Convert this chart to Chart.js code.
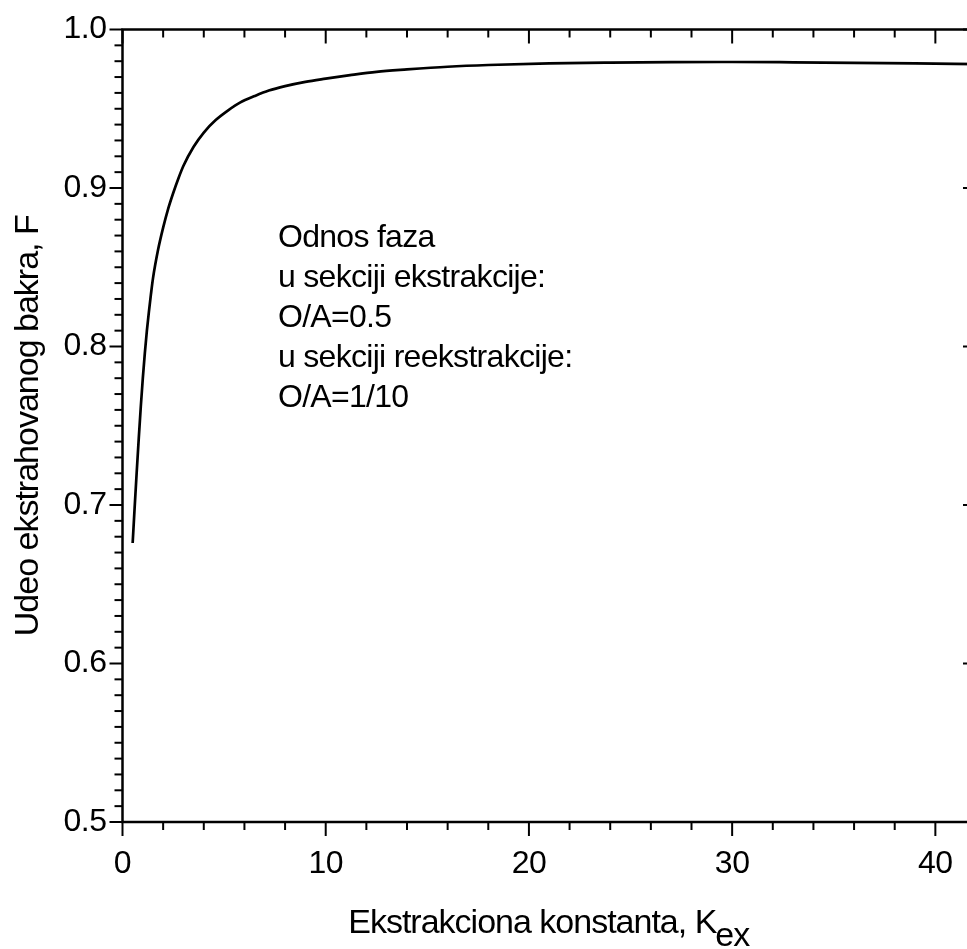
<!DOCTYPE html>
<html>
<head>
<meta charset="utf-8">
<script src="https://cdn.jsdelivr.net/npm/chart.js@4/dist/chart.umd.min.js"></script>
<style>
  html, body { margin: 0; padding: 0; background: #fff; overflow: hidden; }
  canvas { display: block; }
</style>
</head>
<body>
<canvas id="chart_div" width="990" height="949"></canvas>
<script>
// Kex (x) vs. fraction of extracted copper F (y)
const kex = [0.5, 0.6, 0.7, 0.8, 0.9, 1.0, 1.1, 1.2, 1.3, 1.4, 1.5, 1.75, 2.0, 2.25, 2.5, 2.75, 3.0, 3.5, 4.0, 4.6, 5.2, 5.8, 6.5, 7.2, 8.0, 9.0, 10, 11.2, 12.5, 14, 16, 18, 21, 24, 27, 30, 33, 36, 39, 42];
const fraction = [0.676, 0.699, 0.721, 0.742, 0.762, 0.780, 0.796, 0.810, 0.822, 0.833, 0.843, 0.861, 0.875, 0.887, 0.897, 0.906, 0.914, 0.926, 0.935, 0.943, 0.949, 0.954, 0.958, 0.9615, 0.9643, 0.967, 0.969, 0.9712, 0.9733, 0.9748, 0.9765, 0.9776, 0.9786, 0.9791, 0.9794, 0.9795, 0.9793, 0.9790, 0.9786, 0.9781];

const xTicks = [0, 10, 20, 30, 40];
const yTicks = [0.5, 0.6, 0.7, 0.8, 0.9, 1.0];
const xTitle = 'Ekstrakciona konstanta, K';
const xTitleSub = 'ex';
const yTitle = 'Udeo ekstrahovanog bakra, F';
const noteLines = ['Odnos faza', 'u sekciji ekstrakcije:', 'O/A=0.5', 'u sekciji reekstrakcije:', 'O/A=1/10'];
const noteAt = [7.65, 0.8625];  // data position of first line's baseline

const FONT = '"Liberation Sans", Arial, sans-serif';

// axes box, minor/major ticks, labels and titles
const framePlugin = {
  id: 'frame',
  afterDatasetsDraw(chart) {
    const { ctx, chartArea: a, scales: { x, y } } = chart;
    const seg = (x1, y1, x2, y2) => { ctx.beginPath(); ctx.moveTo(x1, y1); ctx.lineTo(x2, y2); ctx.stroke(); };
    ctx.save();
    ctx.strokeStyle = '#000';
    ctx.fillStyle = '#000';
    ctx.lineWidth = 2.5;
    ctx.strokeRect(a.left, a.top, a.right - a.left, a.bottom - a.top);

    ctx.lineWidth = 2;
    // x: minor every 2, major every 10; bottom outward, top inward
    for (let i = 0; i * 2 <= x.max; i++) {
      const px = x.getPixelForValue(i * 2);
      const len = i % 5 === 0 ? 14 : 8;
      seg(px, a.bottom, px, a.bottom + len);
      seg(px, a.top, px, a.top + len);
    }
    // y: minor every 0.01, major every 0.1; left outward, right inward
    for (let i = 0; i <= 50; i++) {
      const py = y.getPixelForValue(0.5 + i * 0.01);
      const len = i % 10 === 0 ? 13 : 8;
      seg(a.left - len, py, a.left, py);
      seg(a.right - len, py, a.right, py);
    }

    ctx.font = '32px ' + FONT;
    ctx.letterSpacing = '-0.5px';
    ctx.textAlign = 'center';
    ctx.textBaseline = 'alphabetic';
    xTicks.forEach(v => ctx.fillText(String(v), x.getPixelForValue(v), 873));
    ctx.textAlign = 'right';
    ctx.textBaseline = 'middle';
    yTicks.forEach(v => ctx.fillText(v.toFixed(1), a.left - 16, y.getPixelForValue(v)));

    // x title with subscript
    ctx.textBaseline = 'alphabetic';
    ctx.textAlign = 'left';
    ctx.font = '34px ' + FONT;
    ctx.letterSpacing = '-1px';
    const w1 = ctx.measureText(xTitle).width;
    const w2 = ctx.measureText(xTitleSub).width;
    const x0 = (a.left + a.right) / 2 - (w1 + w2) / 2;
    ctx.fillText(xTitle, x0, 933);
    ctx.fillText(xTitleSub, x0 + w1 - 1, 946);

    // y title, rotated
    ctx.save();
    ctx.translate(38, (a.top + a.bottom) / 2);
    ctx.rotate(-Math.PI / 2);
    ctx.textAlign = 'center';
    ctx.fillText(yTitle, 0, 0);
    ctx.restore();

    // annotation
    ctx.font = '32px ' + FONT;
    ctx.letterSpacing = '-0.7px';
    ctx.textAlign = 'left';
    const nx = x.getPixelForValue(noteAt[0]);
    const ny = y.getPixelForValue(noteAt[1]);
    noteLines.forEach((t, i) => ctx.fillText(t, nx, ny + i * 40));
    ctx.restore();
  }
};

const ctx = document.getElementById('chart_div').getContext('2d');
new Chart(ctx, {
  type: 'scatter',
  data: {
    datasets: [{
      data: kex.map((k, i) => ({ x: k, y: fraction[i] })),
      showLine: true,
      borderColor: '#000',
      borderWidth: 2.7,
      pointRadius: 0,
      cubicInterpolationMode: 'monotone',
      fill: false
    }]
  },
  options: {
    responsive: false,
    animation: false,
    layout: { padding: { left: 122.5, top: 29.5, right: 14, bottom: 127 } },
    plugins: { legend: { display: false }, tooltip: { enabled: false } },
    scales: {
      x: { type: 'linear', min: 0, max: 42, display: false },
      y: { type: 'linear', min: 0.5, max: 1.0, display: false }
    }
  },
  plugins: [framePlugin]
});
</script>
</body>
</html>
